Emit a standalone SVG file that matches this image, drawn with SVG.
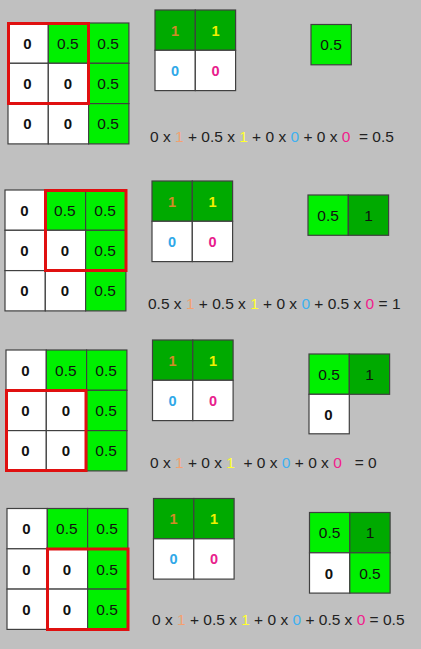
<svg xmlns="http://www.w3.org/2000/svg" width="421" height="649" viewBox="0 0 421 649">
<style>
.bg{fill:#c0c0c0}
.w{fill:#ffffff;stroke:#404040;stroke-width:1.2}
.g{fill:#00f000;stroke:#404040;stroke-width:1.2}
.d{fill:#00aa00;stroke:#404040;stroke-width:1.2}
.red{fill:none;stroke:#e01010;stroke-width:3}
text{font-family:"Liberation Sans",Arial,sans-serif;text-anchor:middle}
.b{font-size:15px;font-weight:bold;fill:#111}
.n{font-size:15.5px;fill:#111}
.ko{font-size:14.5px;font-weight:bold;fill:#d08a28}
.ky{font-size:14.5px;font-weight:bold;fill:#f0f000}
.kb{font-size:14.5px;font-weight:bold;fill:#30a8e8}
.kp{font-size:14.5px;font-weight:bold;fill:#e8208c}
.eq{font-size:15.5px;fill:#222;text-anchor:start;white-space:pre}
.o{fill:#f4a070}.y{fill:#ffff30}.bl{fill:#40b0f0}.p{fill:#f0208c}
</style>
<defs>
<g id="kernel">
<rect class="d" x="0" y="0" width="40.3" height="40.3"/>
<rect class="d" x="40.3" y="0" width="40.3" height="40.3"/>
<rect class="w" x="0" y="40.3" width="40.3" height="40.3"/>
<rect class="w" x="40.3" y="40.3" width="40.3" height="40.3"/>
<text class="ko" x="20.15" y="25.5">1</text>
<text class="ky" x="60.45" y="25.5">1</text>
<text class="kb" x="20.15" y="65.8">0</text>
<text class="kp" x="60.45" y="65.8">0</text>
</g>
<g id="grid">
<rect class="w" x="0" y="0" width="40.3" height="40.3"/>
<rect class="g" x="40.3" y="0" width="40.3" height="40.3"/>
<rect class="g" x="80.6" y="0" width="40.3" height="40.3"/>
<rect class="w" x="0" y="40.3" width="40.3" height="40.3"/>
<rect class="w" x="40.3" y="40.3" width="40.3" height="40.3"/>
<rect class="g" x="80.6" y="40.3" width="40.3" height="40.3"/>
<rect class="w" x="0" y="80.6" width="40.3" height="40.3"/>
<rect class="w" x="40.3" y="80.6" width="40.3" height="40.3"/>
<rect class="g" x="80.6" y="80.6" width="40.3" height="40.3"/>
<text class="b" x="19.5" y="25.8">0</text>
<text class="n" x="59.8" y="25.8">0.5</text>
<text class="n" x="100.1" y="25.8">0.5</text>
<text class="b" x="19.5" y="66.1">0</text>
<text class="b" x="59.8" y="66.1">0</text>
<text class="n" x="100.1" y="66.1">0.5</text>
<text class="b" x="19.5" y="106.4">0</text>
<text class="b" x="59.8" y="106.4">0</text>
<text class="n" x="100.1" y="106.4">0.5</text>
</g>
</defs>
<rect class="bg" x="0" y="0" width="421" height="649"/>

<g id="step1">
<g id="input1"><use href="#grid" x="8" y="23"/><rect class="red" x="8.5" y="23.5" width="80" height="80"/></g>
<g id="kernel1"><use href="#kernel" x="155" y="10"/></g>
<g id="output1">
<rect class="g" x="311" y="24.5" width="40.3" height="40.3"/>
<text class="n" x="331.15" y="50.2">0.5</text>
</g>
<text id="eq1" class="eq" x="150" y="142" xml:space="preserve">0 x <tspan class="o">1</tspan> + 0.5 x <tspan class="y">1</tspan> + 0 x <tspan class="bl">0</tspan> + 0 x <tspan class="p">0</tspan>  = 0.5</text>
</g>

<g id="step2">
<g id="input2"><use href="#grid" x="5" y="190"/><rect class="red" x="45.5" y="190.5" width="80.5" height="80"/></g>
<g id="kernel2"><use href="#kernel" x="152" y="181"/></g>
<g id="output2">
<rect class="g" x="308" y="195" width="40.3" height="40.3"/>
<rect class="d" x="348.3" y="195" width="40.3" height="40.3"/>
<text class="n" x="328.15" y="220.7">0.5</text>
<text class="n" x="368.45" y="220.7">1</text>
</g>
<text id="eq2" class="eq" x="148" y="309" xml:space="preserve">0.5 x <tspan class="o">1</tspan> + 0.5 x <tspan class="y">1</tspan> + 0 x <tspan class="bl">0</tspan> + 0.5 x <tspan class="p">0</tspan> = 1</text>
</g>

<g id="step3">
<g id="input3"><use href="#grid" x="6" y="350"/><rect class="red" x="6.5" y="390.5" width="79.5" height="80"/></g>
<g id="kernel3"><use href="#kernel" x="152.5" y="340"/></g>
<g id="output3">
<rect class="g" x="309" y="354" width="40.3" height="40.3"/>
<rect class="d" x="349.3" y="354" width="40.3" height="40.3"/>
<rect class="w" x="309" y="394.3" width="40.3" height="39.5"/>
<text class="n" x="329.15" y="379.7">0.5</text>
<text class="n" x="369.45" y="379.7">1</text>
<text class="b" x="328.5" y="419.7">0</text>
</g>
<text id="eq3" class="eq" x="150" y="468" xml:space="preserve">0 x <tspan class="o">1</tspan> + 0 x <tspan class="y">1</tspan>  + 0 x <tspan class="bl">0</tspan> + 0 x <tspan class="p">0</tspan>   = 0</text>
</g>

<g id="step4">
<g id="input4"><use href="#grid" x="7" y="508.5"/><rect class="red" x="47.5" y="549" width="80.5" height="80.5"/></g>
<g id="kernel4"><use href="#kernel" x="153.5" y="498.5"/></g>
<g id="output4">
<rect class="g" x="309.5" y="512.5" width="40.3" height="40.3"/>
<rect class="d" x="349.8" y="512.5" width="40.3" height="40.3"/>
<rect class="w" x="309.5" y="552.8" width="40.3" height="40.3"/>
<rect class="g" x="349.8" y="552.8" width="40.3" height="40.3"/>
<text class="n" x="329.65" y="538.2">0.5</text>
<text class="n" x="369.95" y="538.2">1</text>
<text class="b" x="329" y="578.5">0</text>
<text class="n" x="369.95" y="578.5">0.5</text>
</g>
<text id="eq4" class="eq" x="152" y="625" xml:space="preserve">0 x <tspan class="o">1</tspan> + 0.5 x <tspan class="y">1</tspan> + 0 x <tspan class="bl">0</tspan> + 0.5 x <tspan class="p">0</tspan> = 0.5</text>
</g>
</svg>
